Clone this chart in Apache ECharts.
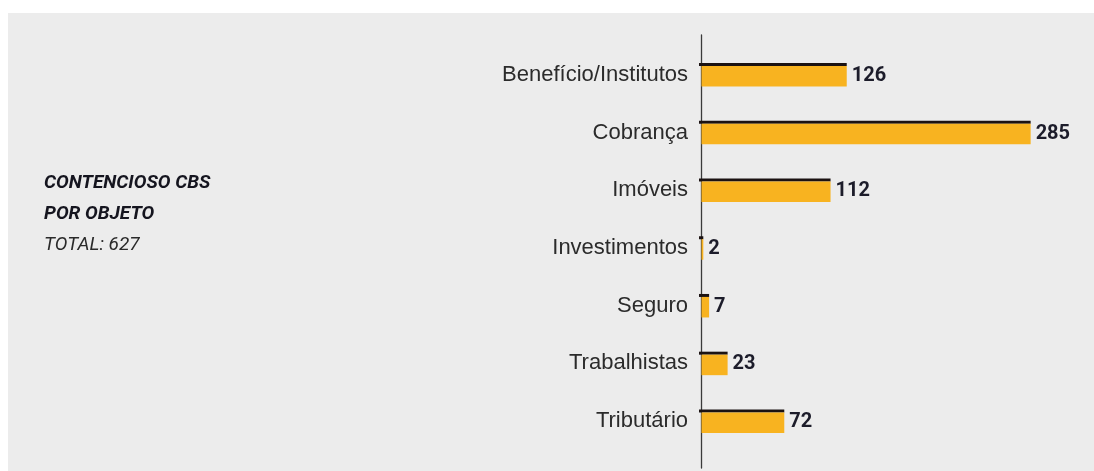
<!DOCTYPE html>
<html>
<head>
<meta charset="utf-8">
<script src="https://cdn.jsdelivr.net/npm/echarts@6/dist/echarts.min.js"></script>
<style>
  html, body { margin: 0; padding: 0; background: #ffffff; }
  #chart { position: absolute; left: 8px; top: 13px; width: 1086px; height: 458px; background: #ececec; }
</style>
</head>
<body>
<div id="chart"></div>
<script>
const categories = ['Benefício/Institutos', 'Cobrança', 'Imóveis', 'Investimentos', 'Seguro', 'Trabalhistas', 'Tributário'];
const values = [126, 285, 112, 2, 7, 23, 72];
const titleLines = ['CONTENCIOSO CBS', 'POR OBJETO'];
const totalText = 'TOTAL: 627';

const chart = echarts.init(document.getElementById('chart'), null, { renderer: 'canvas' });

const BAR_H = 23.5;
const CAP_H = 3;

chart.setOption({
  backgroundColor: 'transparent',
  animation: false,
  title: {
    text: titleLines.join('\n'),
    subtext: totalText,
    left: 31,
    top: 150,
    itemGap: 0,
    textStyle: {
      fontFamily: 'Roboto',
      fontStyle: 'italic',
      fontWeight: 'bold',
      fontSize: 19,
      lineHeight: 31,
      color: '#15151f'
    },
    subtextStyle: {
      fontFamily: 'Roboto',
      fontStyle: 'italic',
      fontWeight: 'normal',
      fontSize: 19,
      lineHeight: 30,
      color: '#2a2a2a'
    }
  },
  grid: [
    { left: 693, top: 33, height: 404, width: 347, containLabel: false },
    { left: 693, top: 22, height: 433, width: 10, containLabel: false }
  ],
  xAxis: [
    { type: 'value', gridIndex: 0, min: 0, max: 300, show: false },
    { type: 'value', gridIndex: 1, min: 0, max: 1, show: false }
  ],
  yAxis: [
    {
      type: 'category',
      gridIndex: 0,
      data: categories,
      inverse: true,
      axisLine: { show: false },
      axisTick: { show: false },
      axisLabel: {
        margin: 13,
        fontFamily: 'Liberation Sans',
        fontSize: 22,
        color: '#2b2b2b'
      }
    },
    {
      type: 'category',
      gridIndex: 1,
      data: [''],
      axisLine: { show: true, lineStyle: { color: '#3a3a3a', width: 1.3 } },
      axisTick: { show: false },
      axisLabel: { show: false }
    }
  ],
  series: [
    {
      type: 'custom',
      xAxisIndex: 0,
      yAxisIndex: 0,
      encode: { x: 0, y: 1 },
      data: values.map((v, i) => [v, i]),
      renderItem: function (params, api) {
        const v = api.value(0);
        const c = api.value(1);
        const p0 = api.coord([0, c]);
        const p1 = api.coord([v, c]);
        const top = p0[1] - BAR_H / 2;
        const w = p1[0] - p0[0];
        return {
          type: 'group',
          children: [
            {
              type: 'rect',
              shape: { x: p0[0] - 2, y: top, width: w + 2, height: CAP_H },
              style: { fill: '#1b1212' }
            },
            {
              type: 'rect',
              shape: { x: p0[0] + 0.5, y: top + CAP_H, width: Math.max(w - 0.5, 0), height: BAR_H - CAP_H },
              style: { fill: '#f8b320' }
            },
            {
              type: 'text',
              style: {
                x: p1[0] + 5,
                y: p0[1] + 1,
                text: String(v),
                fontFamily: 'Roboto',
                fontWeight: 'bold',
                fontSize: 20,
                fill: '#1c1c2a',
                verticalAlign: 'middle',
                align: 'left'
              }
            }
          ]
        };
      }
    }
  ]
});
</script>
</body>
</html>
